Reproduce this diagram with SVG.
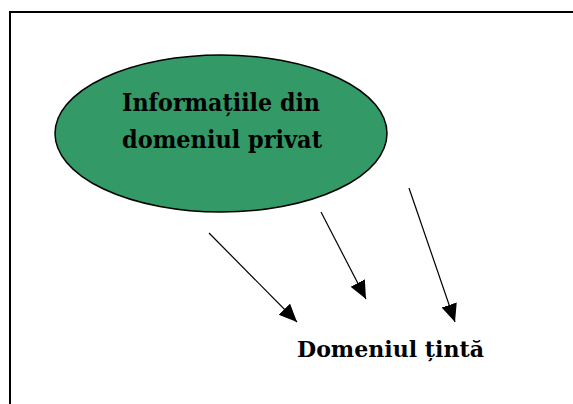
<svg xmlns="http://www.w3.org/2000/svg" width="573" height="404" viewBox="0 0 573 404">
<defs>
<style>
.lbl{font-family:"DejaVu Serif","Liberation Serif","Times New Roman",serif;font-weight:bold;fill:#000;}
.conn{stroke:#000;stroke-width:1.2;fill:none;}
</style>
<marker id="ah" markerUnits="userSpaceOnUse" markerWidth="19" markerHeight="17" refX="18" refY="8" orient="auto">
<path d="M0,0 L18,8 L0,16 z" fill="#000"/>
</marker>
</defs>
<rect width="573" height="404" fill="#fff"/>
<g id="frame">
<path d="M10,404 V12 H573" fill="none" stroke="#000" stroke-width="2"/>
</g>
<g id="node-source">
<ellipse cx="221" cy="133.5" rx="166" ry="78.5" fill="#339966" stroke="#000" stroke-width="1.5"/>
<text class="lbl" x="122" y="111" font-size="24" textLength="198" lengthAdjust="spacingAndGlyphs">Informațiile din</text>
<text class="lbl" x="122" y="148" font-size="24" textLength="200" lengthAdjust="spacingAndGlyphs">domeniul privat</text>
</g>
<g id="node-target">
<text class="lbl" x="297" y="357" font-size="23" textLength="187" lengthAdjust="spacingAndGlyphs">Domeniul țintă</text>
</g>
<g id="connectors">
<line class="conn" x1="209" y1="233" x2="297" y2="322" marker-end="url(#ah)"/>
<line class="conn" x1="321" y1="212" x2="366" y2="299" marker-end="url(#ah)"/>
<line class="conn" x1="409" y1="188" x2="455" y2="322" marker-end="url(#ah)"/>
</g>
</svg>
